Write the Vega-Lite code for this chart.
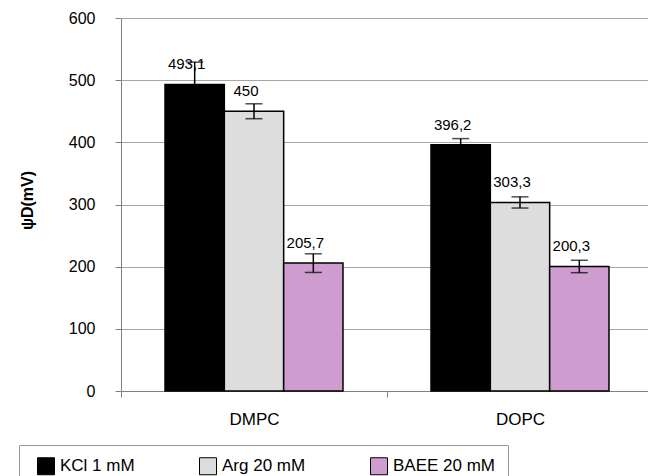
{
  "$schema": "https://vega.github.io/schema/vega-lite/v6.json",
  "width": 527,
  "height": 373,
  "autosize": "none",
  "padding": {"left": 121, "top": 18, "right": 0, "bottom": 85},
  "background": "white",
  "config": {
    "font": "Liberation Sans",
    "view": {"stroke": null},
    "legend": {
      "orient": "none",
      "legendX": -102,
      "legendY": 427,
      "direction": "horizontal",
      "symbolType": "square",
      "symbolSize": 289,
      "labelFontSize": 17,
      "labelColor": "black",
      "labelOffset": 5,
      "columnPadding": 58,
      "padding": 12,
      "symbolOffset": 6,
      "strokeColor": "#999999",
      "fillColor": "white",
      "symbolStrokeColor": "black",
      "symbolStrokeWidth": 1
    }
  },
  "data": {
    "values": [
      {"membrane": "DMPC", "salt": "KCl 1 mM", "value": 493.1, "lo": 457, "hi": 529, "label": "493,1"},
      {"membrane": "DMPC", "salt": "Arg 20 mM", "value": 450, "lo": 438, "hi": 462, "label": "450"},
      {"membrane": "DMPC", "salt": "BAEE 20 mM", "value": 205.7, "lo": 190.7, "hi": 220.7, "label": "205,7"},
      {"membrane": "DOPC", "salt": "KCl 1 mM", "value": 396.2, "lo": 386, "hi": 406, "label": "396,2"},
      {"membrane": "DOPC", "salt": "Arg 20 mM", "value": 303.3, "lo": 294.3, "hi": 312.3, "label": "303,3"},
      {"membrane": "DOPC", "salt": "BAEE 20 mM", "value": 200.3, "lo": 190.3, "hi": 210.3, "label": "200,3"}
    ]
  },
  "encoding": {
    "x": {
      "field": "membrane",
      "type": "nominal",
      "scale": {"range": [0, 532], "paddingInner": 0, "paddingOuter": 0},
      "axis": {
        "title": null,
        "labelAngle": 0,
        "tickBand": "extent",
        "tickSize": 6,
        "domainColor": "#808080",
        "tickColor": "#808080",
        "labelFontSize": 17,
        "labelPadding": 14,
        "labelColor": "black",
        "grid": false
      }
    },
    "xOffset": {
      "field": "salt",
      "type": "nominal",
      "sort": ["KCl 1 mM", "Arg 20 mM", "BAEE 20 mM"],
      "scale": {"paddingInner": 0, "paddingOuter": 0.742}
    }
  },
  "layer": [
    {
      "mark": {"type": "bar", "stroke": "black", "strokeWidth": 1.5},
      "encoding": {
        "y": {
          "field": "value",
          "type": "quantitative",
          "scale": {"domain": [0, 600], "nice": false},
          "axis": {
            "values": [0, 100, 200, 300, 400, 500, 600],
            "grid": true,
            "gridColor": "#a6a6a6",
            "tickSize": 6,
            "domainColor": "#808080",
            "tickColor": "#808080",
            "labelFontSize": 16,
            "labelColor": "black",
            "labelPadding": 20,
            "title": "ψD(mV)",
            "titleFontSize": 16,
            "titleFontWeight": "bold",
            "titleColor": "black",
            "titleX": -94,
            "titleY": 182,
            "titleAngle": -90,
            "titleAlign": "center",
            "titleBaseline": "middle"
          }
        },
        "fill": {
          "field": "salt",
          "type": "nominal",
          "sort": ["KCl 1 mM", "Arg 20 mM", "BAEE 20 mM"],
          "scale": {"range": ["#000000", "#dddddd", "#cf9ccf"]},
          "legend": {
            "title": null,
            "labelExpr": "datum.label == 'BAEE 20 mM' ? datum.label + '\u00a0\u00a0\u00a0\u00a0\u00a0\u00a0\u00a0\u00a0\u00a0\u00a0' : datum.label"
          }
        }
      }
    },
    {
      "mark": {"type": "rule", "color": "black", "strokeWidth": 1.5},
      "encoding": {
        "y": {"field": "lo", "type": "quantitative"},
        "y2": {"field": "hi"}
      }
    },
    {
      "mark": {"type": "tick", "color": "black", "size": 17, "thickness": 1.5},
      "encoding": {"y": {"field": "hi", "type": "quantitative"}}
    },
    {
      "mark": {"type": "tick", "color": "black", "size": 17, "thickness": 1.5},
      "encoding": {"y": {"field": "lo", "type": "quantitative"}}
    },
    {
      "mark": {"type": "text", "fontSize": 15, "color": "black", "baseline": "middle", "dy": -20, "dx": -8},
      "encoding": {
        "y": {"field": "value", "type": "quantitative"},
        "text": {"field": "label"}
      }
    }
  ]
}
